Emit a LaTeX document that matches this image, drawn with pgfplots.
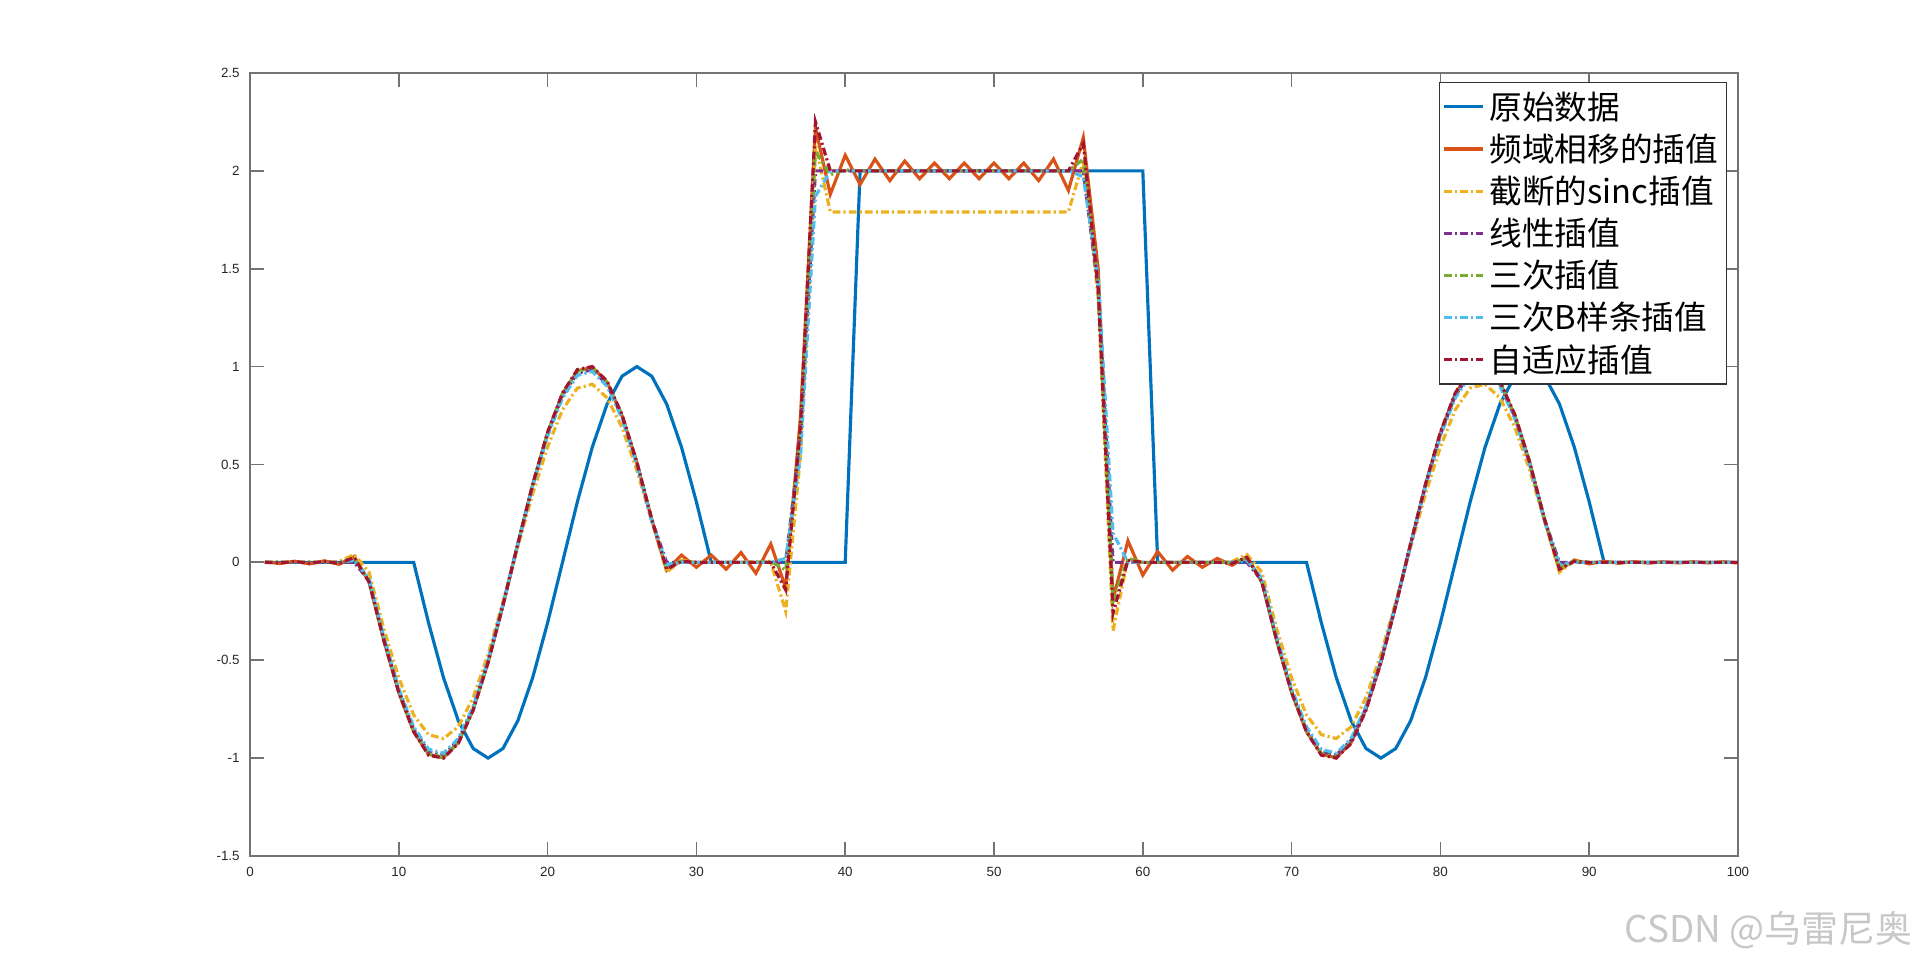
\documentclass[border=0pt]{standalone}
\usepackage{fontspec}
\setmainfont{Liberation Sans}
\newfontfamily\cjk{Noto Sans CJK SC}
\usepackage{pgfplots}
\usepackage{pgfplotstable}
\pgfplotsset{compat=1.18}

\definecolor{mblue}{HTML}{0072BD}
\definecolor{morange}{HTML}{D95319}
\definecolor{myellow}{HTML}{EDB120}
\definecolor{mpurple}{HTML}{7E2F8E}
\definecolor{mgreen}{HTML}{77AC30}
\definecolor{mcyan}{HTML}{4DBEEE}
\definecolor{mred}{HTML}{A2142F}

% x  original  freq-shift  trunc-sinc  linear  cubic  bspline  adaptive
\pgfplotstableread{
x orig freq sinc lin cub bsp adp
1 0 0.003 0 0 0 0 0
2 0 -0.006 0.003 0 0 0 -0.003
3 0 0.006 0 0 0 0 0.004
4 0 -0.008 0.003 0 0 0 -0.004
5 0 0.008 -0.002 0 0 0 0.004
6 0 -0.010 0.005 0 0 0 -0.005
7 0 0.030 0.040 0 0.020 0.010 0.025
8 0 -0.100 -0.050 -0.093 -0.094 -0.080 -0.100
9 0 -0.400 -0.340 -0.393 -0.397 -0.380 -0.400
10 0 -0.665 -0.590 -0.654 -0.661 -0.645 -0.665
11 0 -0.865 -0.780 -0.852 -0.861 -0.840 -0.865
12 -0.309 -0.980 -0.880 -0.966 -0.976 -0.955 -0.985
13 -0.588 -0.998 -0.900 -0.985 -0.996 -0.975 -1.000
14 -0.809 -0.920 -0.840 -0.909 -0.918 -0.900 -0.925
15 -0.951 -0.750 -0.690 -0.743 -0.750 -0.735 -0.755
16 -1.000 -0.510 -0.470 -0.504 -0.509 -0.500 -0.512
17 -0.951 -0.218 -0.200 -0.216 -0.218 -0.214 -0.220
18 -0.809 0.094 0.080 0.093 0.094 0.092 0.095
19 -0.588 0.397 0.350 0.393 0.397 0.390 0.400
20 -0.309 0.661 0.590 0.654 0.661 0.645 0.665
21 0 0.861 0.780 0.852 0.861 0.840 0.865
22 0.309 0.978 0.890 0.966 0.976 0.955 0.985
23 0.588 0.998 0.910 0.985 0.996 0.975 1.000
24 0.809 0.920 0.840 0.909 0.918 0.900 0.925
25 0.951 0.750 0.690 0.743 0.750 0.735 0.755
26 1.000 0.510 0.470 0.504 0.509 0.500 0.512
27 0.951 0.218 0.210 0.216 0.218 0.210 0.220
28 0.809 -0.040 -0.050 0 -0.025 -0.010 -0.035
29 0.588 0.037 0.010 0 0.005 0 0.005
30 0.309 -0.025 0 0 0 0 0
31 0 0.037 0 0 0 0 0
32 0 -0.035 0 0 0 0 0
33 0 0.050 0 0 0 0 0
34 0 -0.056 0.005 0 0 0 0
35 0 0.094 0 0 0.005 0 0
36 0 -0.130 -0.250 0 -0.040 0.020 -0.140
37 0 0.750 0.550 0.650 0.650 0.550 0.700
38 0 2.220 2.130 2 2.100 1.870 2.250
39 0 1.880 1.790 2 1.980 2.000 2.000
40 0 2.080 1.790 2 2.005 2 2
41 2 1.930 1.790 2 2 2 2
42 2 2.060 1.790 2 2 2 2
43 2 1.950 1.790 2 2 2 2
44 2 2.050 1.790 2 2 2 2
45 2 1.960 1.790 2 2 2 2
46 2 2.040 1.790 2 2 2 2
47 2 1.960 1.790 2 2 2 2
48 2 2.040 1.790 2 2 2 2
49 2 1.960 1.790 2 2 2 2
50 2 2.040 1.790 2 2 2 2
51 2 1.960 1.790 2 2 2 2
52 2 2.040 1.790 2 2 2 2
53 2 1.950 1.790 2 2 2 2
54 2 2.060 1.790 2 2 2 2
55 2 1.900 1.790 2 2 2 2
56 2 2.170 2.050 2 2.060 1.970 2.140
57 2 1.500 1.350 1.400 1.420 1.450 1.400
58 2 -0.190 -0.350 0 -0.200 0.150 -0.260
59 2 0.110 0.020 0 0.020 0 0.010
60 2 -0.065 0 0 0 0 0
61 0 0.055 0 0 0 0 0
62 0 -0.040 0 0 0 0 0
63 0 0.030 0 0 0 0 0
64 0 -0.025 0 0 0 0 0
65 0 0.020 0 0 0 0 0
66 0 -0.015 0.005 0 0 0 -0.005
67 0 0.030 0.040 0 0.020 0.010 0.025
68 0 -0.100 -0.050 -0.093 -0.094 -0.080 -0.100
69 0 -0.400 -0.340 -0.393 -0.397 -0.380 -0.400
70 0 -0.665 -0.590 -0.654 -0.661 -0.645 -0.665
71 0 -0.865 -0.780 -0.852 -0.861 -0.840 -0.865
72 -0.309 -0.980 -0.880 -0.966 -0.976 -0.955 -0.985
73 -0.588 -0.998 -0.900 -0.985 -0.996 -0.975 -1.000
74 -0.809 -0.920 -0.840 -0.909 -0.918 -0.900 -0.925
75 -0.951 -0.750 -0.690 -0.743 -0.750 -0.735 -0.755
76 -1.000 -0.510 -0.470 -0.504 -0.509 -0.500 -0.512
77 -0.951 -0.218 -0.200 -0.216 -0.218 -0.214 -0.220
78 -0.809 0.094 0.080 0.093 0.094 0.092 0.095
79 -0.588 0.397 0.350 0.393 0.397 0.390 0.400
80 -0.309 0.661 0.590 0.654 0.661 0.645 0.665
81 0 0.861 0.780 0.852 0.861 0.840 0.865
82 0.309 0.978 0.890 0.966 0.976 0.955 0.985
83 0.588 0.998 0.910 0.985 0.996 0.975 1.000
84 0.809 0.920 0.840 0.909 0.918 0.900 0.925
85 0.951 0.750 0.690 0.743 0.750 0.735 0.755
86 1.000 0.510 0.470 0.504 0.509 0.500 0.512
87 0.951 0.218 0.210 0.216 0.218 0.210 0.220
88 0.809 -0.040 -0.050 0 -0.025 -0.010 -0.035
89 0.588 0.012 0.010 0 0.005 0 0.005
90 0.309 -0.008 0 0 0 0 0
91 0 0.006 0 0 0 0 0
92 0 -0.005 0 0 0 0 0
93 0 0.004 0 0 0 0 0
94 0 -0.004 0 0 0 0 0
95 0 0.003 0 0 0 0 0
96 0 -0.003 0 0 0 0 0
97 0 0.003 0 0 0 0 0
98 0 -0.003 0 0 0 0 0
99 0 0.003 0 0 0 0 0
100 0 -0.003 0 0 0 0 0
}\datatab

\tikzset{dashdot/.style={dash pattern=on 2.2pt off 0.9pt on 0.6pt off 0.9pt}}

\begin{document}
\begin{tikzpicture}
\useasboundingbox (-2.50cm,-1.06cm) rectangle (16.70cm,8.56cm);
\begin{axis}[
  at={(0,0)}, anchor=south west,
  scale only axis,
  width=14.88cm, height=7.83cm,
  xmin=0, xmax=100, ymin=-1.5, ymax=2.5,
  xtick={0,10,...,100},
  xticklabels={0,10,20,30,40,50,60,70,80,90,100},
  ytick={-1.5,-1,-0.5,0,0.5,1,1.5,2,2.5},
  yticklabels={-1.5,-1,-0.5,0,0.5,1,1.5,2,2.5},
  xtick pos=both, ytick pos=both,
  xticklabel pos=lower, yticklabel pos=left,
  tick align=inside,
  major tick length=0.14cm,
  minor tick num=0,
  axis line style={black!55, line width=0.5pt},
  every tick/.style={black!55, line width=0.5pt},
  tick label style={font=\fontsize{3.8}{4.5}\selectfont, text=black!85},
  yticklabel style={xshift=0.02cm},
  xticklabel style={yshift=0.01cm},
  legend style={at={(1,1)}, anchor=north east, xshift=-0.11cm, yshift=-0.09cm,
                draw=black!80, line width=0.4pt, fill=white, inner sep=0.3mm,
                font={\cjk\fontsize{9.3}{12}\selectfont},
                row sep=0pt,
                nodes={inner xsep=0.5mm, inner ysep=0pt, text height=9.5pt, text depth=2.5pt}},
  legend cell align=left,
  legend image code/.code={\draw[#1] (0cm,0cm) -- (0.39cm,0cm);},
  every axis plot/.append style={line width=0.9pt},
]
\addplot[mblue, solid] table[x=x, y=orig] {\datatab};
\addlegendentry{原始数据}
\addplot[morange, solid] table[x=x, y=freq] {\datatab};
\addlegendentry{频域相移的插值}
\addplot[myellow, dashdot] table[x=x, y=sinc] {\datatab};
\addlegendentry{截断的sinc插值}
\addplot[mpurple, dashdot] table[x=x, y=lin] {\datatab};
\addlegendentry{线性插值}
\addplot[mgreen, dashdot] table[x=x, y=cub] {\datatab};
\addlegendentry{三次插值}
\addplot[mcyan, dashdot] table[x=x, y=bsp] {\datatab};
\addlegendentry{三次B样条插值}
\addplot[mred, dashdot] table[x=x, y=adp] {\datatab};
\addlegendentry{自适应插值}
\end{axis}
\node[anchor=east, inner sep=0pt, text=black!22, font={\cjk\fontsize{10.5}{12}\selectfont}] at (16.63cm,-0.745cm) {CSDN @乌雷尼奥};
\end{tikzpicture}
\end{document}
